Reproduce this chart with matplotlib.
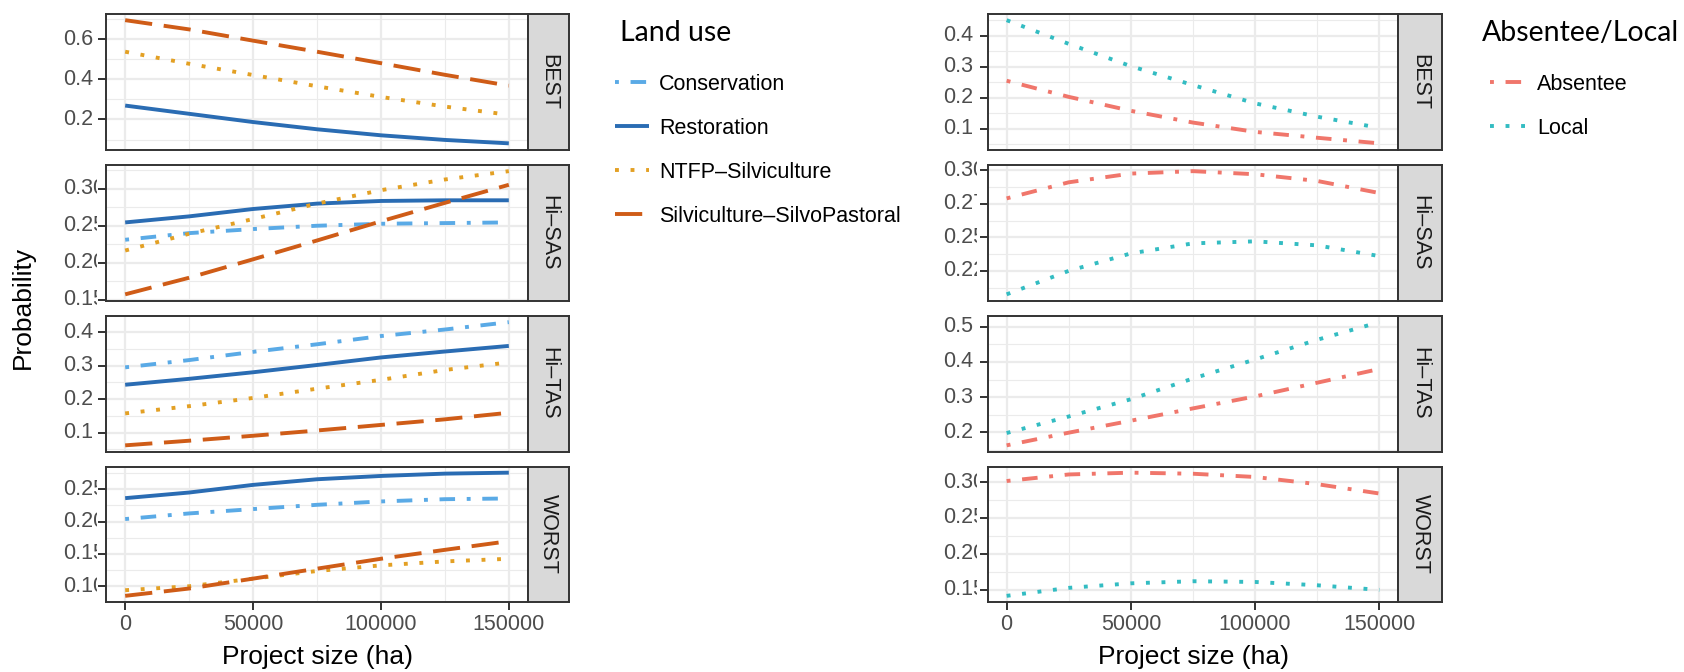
import matplotlib
matplotlib.use("Agg")
import matplotlib.pyplot as plt
import matplotlib.transforms as mtransforms
import numpy as np

plt.rcParams["font.family"] = ["Liberation Sans", "DejaVu Sans"]

W, H, DPI = 1684, 672, 100

# ---- data ----
project_size = [0, 25000, 50000, 75000, 100000, 125000, 150000]
scenarios = ["BEST", "Hi\u2013SAS", "Hi\u2013TAS", "WORST"]

land_uses = ["Conservation", "Restoration", "NTFP\u2013Silviculture",
             "Silviculture\u2013SilvoPastoral"]

# land use panels (left), one list per scenario
conservation = [
    None,
    [0.231, 0.240, 0.2455, 0.250, 0.2527, 0.2536, 0.2545],
    [0.295, 0.3167, 0.3413, 0.3639, 0.3885, 0.408, 0.430],
    [0.2039, 0.2126, 0.2193, 0.2259, 0.2311, 0.2346, 0.2357],
]
restoration = [
    [0.269, 0.228, 0.187, 0.151, 0.121, 0.098, 0.081],
    [0.2545, 0.2627, 0.2727, 0.280, 0.2836, 0.2845, 0.2845],
    [0.243, 0.2607, 0.2803, 0.302, 0.3246, 0.3423, 0.359],
    [0.2362, 0.2449, 0.2567, 0.2654, 0.2705, 0.2741, 0.2756],
]
ntfp = [
    [0.537, 0.477, 0.421, 0.365, 0.312, 0.264, 0.223],
    [0.2164, 0.2391, 0.2591, 0.280, 0.2982, 0.3127, 0.324],
    [0.1574, 0.179, 0.2036, 0.2312, 0.2577, 0.2872, 0.3098],
    [0.0939, 0.100, 0.1118, 0.1236, 0.1323, 0.1384, 0.1425],
]
silvo = [
    [0.694, 0.648, 0.592, 0.537, 0.480, 0.422, 0.368],
    [0.157, 0.1795, 0.2045, 0.230, 0.256, 0.281, 0.3055],
    [0.062, 0.0758, 0.0906, 0.1063, 0.123, 0.1397, 0.1594],
    [0.0852, 0.0965, 0.1118, 0.1272, 0.1425, 0.1563, 0.1697],
]

# absentee / local panels (right)
absentee = [
    [0.255, 0.203, 0.158, 0.120, 0.090, 0.071, 0.053],
    [0.279, 0.291, 0.2975, 0.2993, 0.297, 0.292, 0.283],
    [0.163, 0.199, 0.233, 0.268, 0.302, 0.341, 0.380],
    [0.3014, 0.3105, 0.313, 0.3115, 0.307, 0.297, 0.284],
]
local = [
    [0.4505, 0.374, 0.302, 0.241, 0.182, 0.139, 0.103],
    [0.2075, 0.225, 0.238, 0.2455, 0.247, 0.244, 0.236],
    [0.198, 0.245, 0.294, 0.353, 0.407, 0.463, 0.513],
    [0.1417, 0.1528, 0.1591, 0.162, 0.161, 0.1564, 0.150],
]

left_yticks = [[0.2, 0.4, 0.6], [0.15, 0.20, 0.25, 0.30],
               [0.1, 0.2, 0.3, 0.4], [0.10, 0.15, 0.20, 0.25]]
left_ylabels = [["0.2", "0.4", "0.6"], ["0.15", "0.20", "0.25", "0.30"],
                ["0.1", "0.2", "0.3", "0.4"], ["0.10", "0.15", "0.20", "0.25"]]
right_yticks = [[0.1, 0.2, 0.3, 0.4], [0.225, 0.250, 0.275, 0.300],
                [0.2, 0.3, 0.4, 0.5], [0.15, 0.20, 0.25, 0.30]]
right_ylabels = [["0.1", "0.2", "0.3", "0.4"], ["0.225", "0.250", "0.275", "0.300"],
                 ["0.2", "0.3", "0.4", "0.5"], ["0.15", "0.20", "0.25", "0.30"]]
xticks = [0, 50000, 100000, 150000]
xticklabels = ["0", "50000", "100000", "150000"]

# ---- styles ----
LW = 2.8
land_styles = {
    "Conservation": dict(color="#5aaae6", linestyle=(0, (1, 3, 4, 3))),
    "Restoration": dict(color="#2a6cb3", linestyle="-"),
    "NTFP\u2013Silviculture": dict(color="#e3a024", linestyle=(0, (1, 3))),
    "Silviculture\u2013SilvoPastoral": dict(color="#cf5c17", linestyle=(0, (7, 3))),
}
abs_styles = {
    "Absentee": dict(color="#f0766b", linestyle=(0, (1, 3, 4, 3))),
    "Local": dict(color="#33bcc2", linestyle=(0, (1, 3))),
}

TICK_FS = 15.5
DARK = "#333333"
fig = plt.figure(figsize=(W / DPI, H / DPI), dpi=DPI)


def px_axes(x0, top, w, h):
    return fig.add_axes([x0 / W, 1 - (top + h) / H, w / W, h / H])


row_tops = [14, 165, 316, 466.5]
row_h = 135.5


def draw_panel(x0, w, strip_w, top, name, series, styles, yticks, ylabels,
               label_x, clip_x, bottom):
    ax = px_axes(x0, top, w, row_h)
    allv = []
    for lab, vals in series:
        if vals is None:
            continue
        ax.plot(project_size, vals, lw=LW, dash_capstyle="butt",
                solid_capstyle="butt", label=lab, **styles[lab])
        allv += vals
    lo, hi = min(allv), max(allv)
    r = hi - lo
    ax.set_ylim(lo - 0.05 * r, hi + 0.05 * r)
    ax.set_xlim(-7500, 157500)
    step = yticks[1] - yticks[0]
    minor = [t for t in np.arange(yticks[0] - step / 2, yticks[-1] + step, step)
             if lo - 0.05 * r < t < hi + 0.05 * r]
    ax.set_yticks(yticks)
    ax.set_yticks(minor, minor=True)
    ax.set_xticks(xticks)
    ax.set_xticks([25000, 75000, 125000], minor=True)
    ax.grid(which="major", color="#EBEBEB", lw=1.6)
    ax.grid(which="minor", color="#EBEBEB", lw=0.8)
    ax.set_axisbelow(True)
    ax.tick_params(which="minor", length=0)
    ax.tick_params(which="major", length=5.5, width=1.4, color=DARK,
                   labelleft=False, labelsize=TICK_FS, labelcolor="#4D4D4D", pad=3)
    if bottom:
        ax.set_xticklabels(xticklabels)
    else:
        ax.tick_params(axis="x", length=0, labelbottom=False)
    for s in ax.spines.values():
        s.set_color(DARK)
        s.set_linewidth(1.4)
    # y tick labels, left aligned and cut at the tick marks as in the source
    tr = mtransforms.blended_transform_factory(fig.transFigure, ax.transData)
    clip = mtransforms.TransformedBbox(
        mtransforms.Bbox.from_extents(0, 0, clip_x / W, 1), fig.transFigure)
    for t, s in zip(yticks, ylabels):
        txt = fig.text(label_x / W, t, s, transform=tr, ha="left", va="center",
                       fontsize=TICK_FS, color="#4D4D4D")
        txt.set_clip_box(clip)
        txt.set_clip_on(True)
    # strip
    sax = px_axes(x0 + w, top, strip_w, row_h)
    sax.set_facecolor("#D9D9D9")
    sax.set_xticks([])
    sax.set_yticks([])
    for s in sax.spines.values():
        s.set_color(DARK)
        s.set_linewidth(1.4)
    sax.text(0.5, 0.5, name, rotation=270, ha="center", va="center",
             fontsize=TICK_FS, color="#1A1A1A", transform=sax.transAxes)
    return ax


left_axes = []
right_axes = []
for i, sc in enumerate(scenarios):
    left_series = [(land_uses[0], conservation[i]), (land_uses[1], restoration[i]),
                   (land_uses[2], ntfp[i]), (land_uses[3], silvo[i])]
    left_axes.append(draw_panel(106, 422, 41, row_tops[i], sc, left_series,
                                land_styles, left_yticks[i], left_ylabels[i],
                                63, 97, i == 3))
    right_series = [("Absentee", absentee[i]), ("Local", local[i])]
    right_axes.append(draw_panel(988, 410, 44, row_tops[i], sc, right_series,
                                 abs_styles, right_yticks[i], right_ylabels[i],
                                 943, 977, i == 3))

# axis titles
fig.text(23 / W, 1 - 307 / H, "Probability", rotation=90, ha="center",
         va="center", fontsize=19)
fig.text(317 / W, 1 - 657 / H, "Project size (ha)", ha="center", va="center",
         fontsize=19)
fig.text(1193 / W, 1 - 657 / H, "Project size (ha)", ha="center", va="center",
         fontsize=19)

# legends
h1, l1 = left_axes[1].get_legend_handles_labels()
fig.legend(h1, l1, loc="upper left", bbox_to_anchor=(615 / W, 1 - 73.5 / H),
           frameon=False, fontsize=TICK_FS, handlelength=1.58,
           handletextpad=0.46, labelspacing=1.07, borderpad=0, borderaxespad=0)
fig.text(620 / W, 1 - 33 / H, "Land use", ha="left", va="center",
         fontsize=20.5, family="Lato")

h2, l2 = right_axes[0].get_legend_handles_labels()
fig.legend(h2, l2, loc="upper left", bbox_to_anchor=(1490 / W, 1 - 73.5 / H),
           frameon=False, fontsize=TICK_FS, handlelength=1.67,
           handletextpad=0.51, labelspacing=1.07, borderpad=0, borderaxespad=0)
fig.text(1482 / W, 1 - 33 / H, "Absentee/Local", ha="left", va="center",
         fontsize=20.5, family="Lato")

fig.savefig("out.png", dpi=DPI)
